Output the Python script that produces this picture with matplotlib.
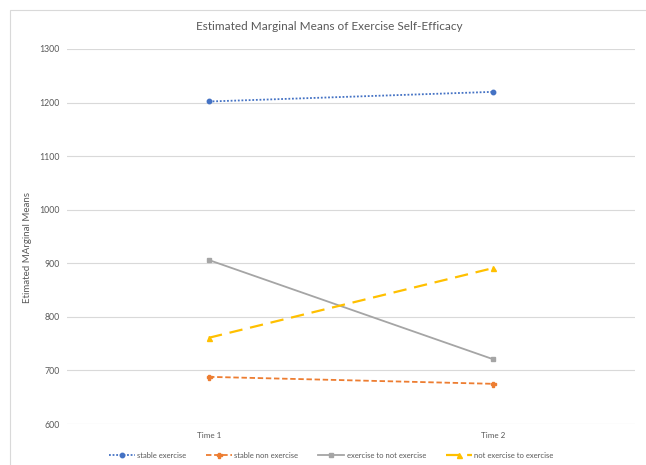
import matplotlib
matplotlib.use("Agg")
import matplotlib.pyplot as plt
from matplotlib.patches import Rectangle

plt.rcParams['font.family'] = ['Lato', 'DejaVu Sans']

times = ["Time 1", "Time 2"]
stable_exercise = [1202, 1220]
stable_non_exercise = [688, 675]
exercise_to_not = [906, 721]
not_to_exercise = [761, 891]

fig = plt.figure(figsize=(6.46, 4.65), dpi=100)
ax = fig.add_axes([67 / 646, 1 - 424 / 465, (635 - 67) / 646, (424 - 49) / 465])

x = [0.5, 1.5]
ax.plot(x, stable_exercise, color="#4472C4", linestyle=(0, (1, 1)), linewidth=1.3,
        marker="o", markersize=3.2, label="stable exercise")
ax.plot(x, stable_non_exercise, color="#ED7D31", linestyle=(0, (3, 1.5)), linewidth=1.3,
        marker="P", markersize=3.6, label="stable non exercise")
ax.plot(x, exercise_to_not, color="#A5A5A5", linestyle="-", linewidth=1.3,
        marker="s", markersize=3.2, label="exercise to not exercise")
ax.plot(x, not_to_exercise, color="#FFC000", linestyle=(0, (6, 3.5)), linewidth=1.6,
        marker="^", markersize=3.6, label="not exercise to exercise")

ax.set_xlim(0, 2)
ax.set_ylim(600, 1300)
ax.set_yticks(range(600, 1301, 100))
ax.set_xticks(x)
ax.set_xticklabels(times)
ax.grid(axis="y", color="#D9D9D9", linewidth=0.8)
ax.set_axisbelow(True)
for s in ax.spines.values():
    s.set_visible(False)
ax.tick_params(axis="both", length=0, labelsize=6.3, labelcolor="#595959")
ax.tick_params(axis="x", labelsize=5.8, pad=6)
ax.tick_params(axis="y", pad=5)
ax.set_ylabel("Etimated MArginal Means", fontsize=7, color="#595959")
ax.yaxis.set_label_coords(-0.062, 0.47)

fig.text(329 / 646, 1 - 27 / 465, "Estimated Marginal Means of Exercise Self-Efficacy",
         ha="center", va="center", fontsize=8.5, color="#595959")

fig.legend(loc="center", bbox_to_anchor=(331 / 646, 1 - 455 / 465), ncol=4, frameon=False,
           fontsize=5.5, labelcolor="#595959", handlelength=3.4, columnspacing=2.6,
           handletextpad=0.3)

fig.patches.append(Rectangle((10 / 646, -10 / 465), 640 / 646, 465 / 465,
                             transform=fig.transFigure, fill=False,
                             edgecolor="#D9D9D9", linewidth=0.8))

fig.savefig("out.png", dpi=100)
